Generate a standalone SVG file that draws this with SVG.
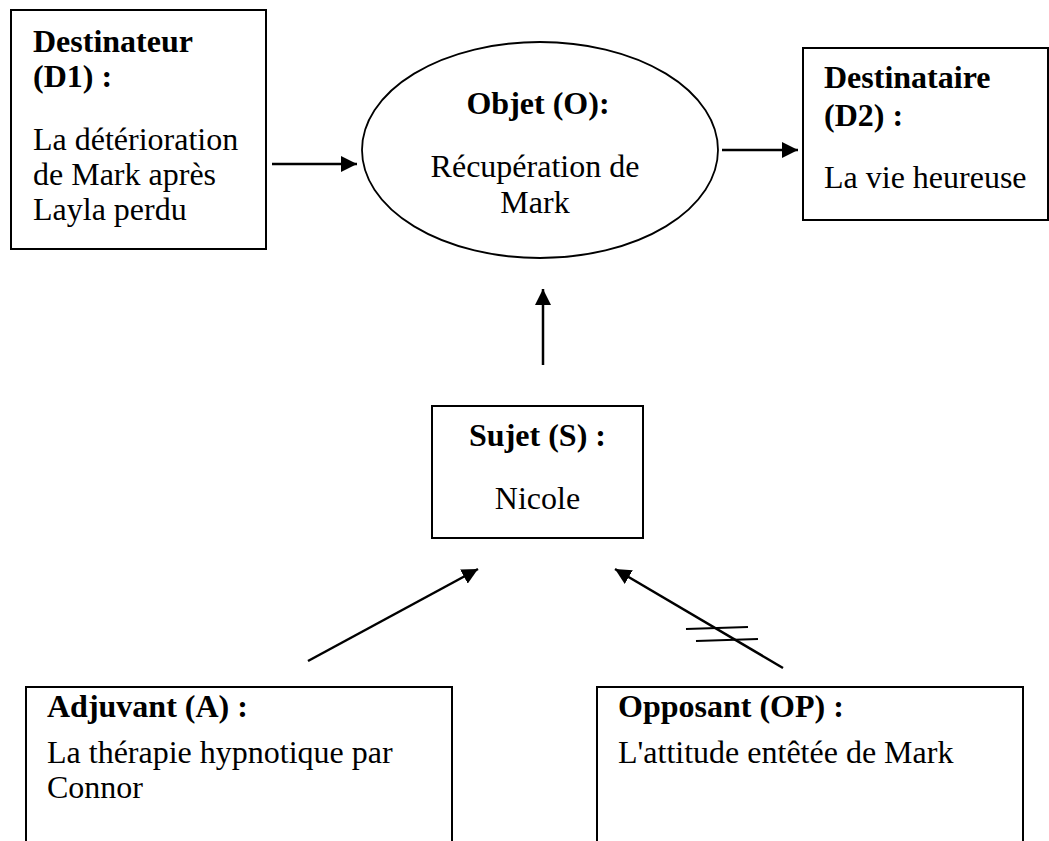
<svg xmlns="http://www.w3.org/2000/svg" width="1049" height="841" viewBox="0 0 1049 841">
<style>
.box{fill:#fff;stroke:#000;stroke-width:2}
.t{font-family:"Liberation Serif","Times New Roman",serif;font-size:32px;fill:#000}
.b{font-weight:bold}
.c{text-anchor:middle}
.con{stroke:#000;stroke-width:2.5;fill:none}
</style>
<defs>
<marker id="ah" viewBox="0 0 16 16" refX="16" refY="8" markerWidth="16" markerHeight="16" markerUnits="userSpaceOnUse" orient="auto">
<path d="M0,0 L16,8 L0,16 Z" fill="#000"/>
</marker>
</defs>
<rect width="1049" height="841" fill="#fff"/>
<g id="connectors">
<line class="con" x1="272" y1="164" x2="357" y2="164" marker-end="url(#ah)"/>
<line class="con" x1="722" y1="150" x2="798" y2="150" marker-end="url(#ah)"/>
<line class="con" x1="543" y1="365" x2="543" y2="289" marker-end="url(#ah)"/>
<line class="con" x1="308" y1="661" x2="478" y2="569" marker-end="url(#ah)"/>
<line class="con" x1="783" y1="668" x2="615" y2="569" marker-end="url(#ah)"/>
<line stroke="#000" stroke-width="2" x1="686" y1="629" x2="748" y2="627"/>
<line stroke="#000" stroke-width="2" x1="696" y1="641" x2="758" y2="639"/>
</g>
<g id="destinateur">
<rect class="box" x="11" y="10" width="255" height="239"/>
<text class="t b" x="33" y="52">Destinateur</text>
<text class="t b" x="33" y="87">(D1) :</text>
<text class="t" x="33" y="150">La détérioration</text>
<text class="t" x="33" y="185">de Mark après</text>
<text class="t" x="33" y="220">Layla perdu</text>
</g>
<g id="objet">
<ellipse cx="540" cy="150" rx="178" ry="108" fill="#fff" stroke="#000" stroke-width="1.8"/>
<text class="t b c" x="538" y="114">Objet (O):</text>
<text class="t c" x="535" y="177">Récupération de</text>
<text class="t c" x="535" y="213">Mark</text>
</g>
<g id="destinataire">
<rect class="box" x="803" y="48" width="245" height="172"/>
<text class="t b" x="824" y="88">Destinataire</text>
<text class="t b" x="824" y="126">(D2) :</text>
<text class="t" x="824" y="188">La vie heureuse</text>
</g>
<g id="sujet">
<rect class="box" x="432" y="406" width="211" height="132"/>
<text class="t b c" x="537.5" y="446">Sujet (S) :</text>
<text class="t c" x="537.5" y="509">Nicole</text>
</g>
<g id="adjuvant">
<rect class="box" x="26" y="687" width="426" height="200"/>
<text class="t b" x="47" y="717">Adjuvant (A) :</text>
<text class="t" x="47" y="763">La thérapie hypnotique par</text>
<text class="t" x="47" y="798">Connor</text>
</g>
<g id="opposant">
<rect class="box" x="597" y="687" width="426" height="200"/>
<text class="t b" x="618" y="717">Opposant (OP) :</text>
<text class="t" x="618" y="763">L'attitude entêtée de Mark</text>
</g>
</svg>
